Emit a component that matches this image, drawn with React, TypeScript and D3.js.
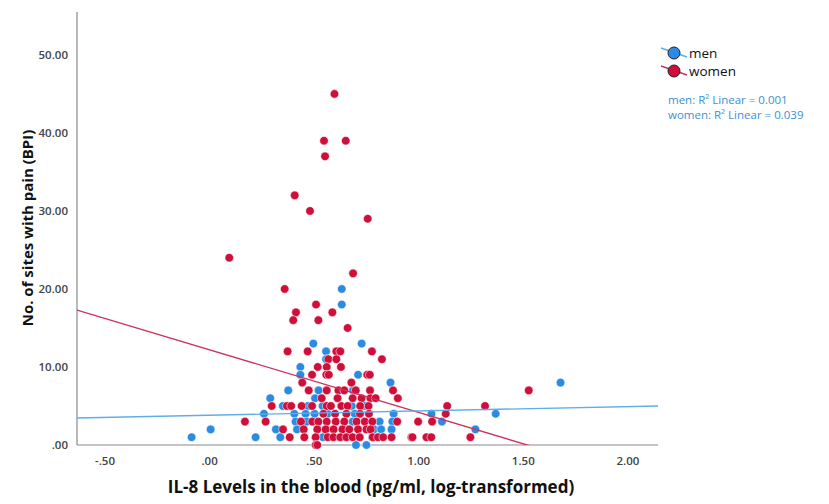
import React, { useEffect, useRef } from 'react';
import * as d3 from 'd3';

// [IL-8 log value, sites with pain]
const women: [number, number][] = [
    [0.597, 45], [0.547, 39], [0.651, 39], [0.552, 37], [0.407, 32], [0.48, 30], [0.756, 29],
    [0.094, 24], [0.686, 22], [0.359, 20], [0.509, 18], [0.413, 17], [0.587, 17], [0.40, 16],
    [0.52, 16], [0.66, 15],
    [0.373, 12], [0.469, 12], [0.606, 12], [0.625, 12], [0.776, 12],
    [0.568, 11], [0.606, 11], [0.824, 11],
    [0.517, 10], [0.56, 10], [0.628, 10],
    [0.49, 9], [0.558, 9], [0.57, 9], [0.754, 9], [0.766, 9],
    [0.443, 8], [0.678, 8],
    [0.474, 7], [0.56, 7], [0.616, 7], [0.644, 7], [0.699, 7], [0.767, 7], [0.877, 7], [1.526, 7],
    [0.536, 6], [0.612, 6], [0.684, 6], [0.727, 6], [0.769, 6], [0.794, 6], [0.90, 6],
    [0.297, 5], [0.37, 5], [0.39, 5], [0.44, 5], [0.49, 5], [0.56, 5], [0.58, 5], [0.63, 5],
    [0.66, 5], [0.72, 5], [0.76, 5], [1.136, 5], [1.317, 5],
    [0.544, 4], [0.6, 4], [0.654, 4], [0.719, 4], [0.762, 4], [1.129, 4],
    [0.169, 3], [0.268, 3], [0.437, 3], [0.491, 3], [0.52, 3], [0.56, 3], [0.603, 3], [0.644, 3],
    [0.703, 3], [0.742, 3], [0.778, 3], [0.897, 3], [0.997, 3], [1.064, 3],
    [0.351, 2], [0.45, 2], [0.515, 2], [0.555, 2], [0.593, 2], [0.635, 2], [0.668, 2], [0.71, 2],
    [0.75, 2], [0.77, 2],
    [0.383, 1], [0.453, 1], [0.507, 1], [0.565, 1], [0.592, 1], [0.625, 1], [0.654, 1], [0.684, 1],
    [0.718, 1], [0.78, 1], [0.805, 1], [0.83, 1], [0.87, 1], [0.965, 1], [0.97, 1], [1.037, 1],
    [1.06, 1], [1.247, 1],
    [0.507, 0], [0.515, 0],
];

const men: [number, number][] = [
    [-0.086, 1], [0.005, 2], [0.22, 1], [0.26, 4], [0.29, 6], [0.317, 2], [0.338, 1], [0.376, 7],
    [0.496, 13], [0.557, 12], [0.727, 13], [0.632, 20], [0.632, 18], [0.557, 11], [0.434, 10],
    [0.434, 9], [0.71, 9], [0.521, 7], [0.686, 7], [0.504, 6], [0.865, 8], [1.678, 8],
    [0.35, 5], [0.47, 5], [0.54, 5], [0.68, 5], [0.74, 5],
    [0.405, 4], [0.459, 4], [0.502, 4], [0.565, 4], [0.694, 4], [0.88, 4], [1.061, 4], [1.368, 4],
    [0.411, 3], [0.464, 3], [0.684, 3], [0.813, 3], [0.874, 3], [1.111, 3],
    [0.418, 2], [0.786, 2], [0.82, 2], [0.87, 2], [1.271, 2],
    [0.542, 1], [0.778, 1],
    [0.70, 0], [0.75, 0],
];

// linear fits [intercept, slope]
const womenFit = [12.2, -8.03];
const menFit = [3.81, 0.555];

const xTicks = [-0.5, 0, 0.5, 1, 1.5, 2];
const yTicks = [0, 10, 20, 30, 40, 50];
const fitLabels = ['men: R\u00b2 Linear = 0.001', 'women: R\u00b2 Linear = 0.039'];

const MEN = '#2b8be2';
const WOMEN = '#cf0e3a';
const MEN_LINE = '#5eaee8';
const WOMEN_LINE = '#c9335c';

const fmt = (v: number) => {
    const s = v.toFixed(2);
    return s.replace(/^(-?)0\./, '$1.');
};

const App: React.FC = () => {
    const svgRef = useRef<SVGSVGElement | null>(null);

    useEffect(() => {
        const svg = d3.select(svgRef.current);
        svg.selectAll('*').remove();

        const left = 77, right = 658, top = 12, bottom = 445;
        const x = d3.scaleLinear().domain([-0.634, 2.144]).range([left, right]);
        const y = d3.scaleLinear().domain([0, 55.5]).range([bottom, top]);
        const font = '"Open Sans", "DejaVu Sans", sans-serif';

        svg.append('clipPath').attr('id', 'plot')
            .append('rect').attr('x', left).attr('y', top)
            .attr('width', right - left).attr('height', bottom - top);

        // axis lines
        svg.append('line').attr('x1', left).attr('x2', left).attr('y1', top).attr('y2', bottom)
            .attr('stroke', '#8a8a8a').attr('stroke-width', 1.2);
        svg.append('line').attr('x1', left).attr('x2', right).attr('y1', bottom).attr('y2', bottom)
            .attr('stroke', '#8a8a8a').attr('stroke-width', 1.2);

        svg.append('g').selectAll('text').data(yTicks).enter().append('text')
            .attr('x', left - 9).attr('y', d => y(d) + 4)
            .attr('text-anchor', 'end').attr('font-family', font).attr('font-size', 11.5)
            .attr('font-weight', 600).attr('fill', '#444')
            .text(d => fmt(d));

        svg.append('g').selectAll('text').data(xTicks).enter().append('text')
            .attr('x', d => x(d)).attr('y', bottom + 20)
            .attr('text-anchor', 'middle').attr('font-family', font).attr('font-size', 11.5)
            .attr('font-weight', 600).attr('fill', '#444')
            .text(d => fmt(d));

        // axis titles
        svg.append('text').attr('x', 371).attr('y', 493).attr('text-anchor', 'middle')
            .attr('font-family', font).attr('font-size', 17).attr('font-weight', 700).attr('fill', '#111')
            .text('IL-8 Levels in the blood (pg/ml, log-transformed)');
        svg.append('text').attr('transform', 'translate(33,228) rotate(-90)').attr('text-anchor', 'middle')
            .attr('font-family', font).attr('font-size', 15).attr('font-weight', 700).attr('fill', '#111')
            .text('No. of sites with pain (BPI)');

        const pts = svg.append('g');
        const drawDots = (data: [number, number][], color: string) => {
            pts.append('g').selectAll('circle').data(data).enter().append('circle')
                .attr('cx', d => x(d[0])).attr('cy', d => y(d[1])).attr('r', 4.3)
                .attr('fill', color).attr('stroke', '#fff').attr('stroke-opacity', 0.7).attr('stroke-width', 0.8);
        };
        drawDots(men, MEN);
        drawDots(women, WOMEN);

        // fit lines
        const fit = svg.append('g').attr('clip-path', 'url(#plot)');
        const line = (c: number[], color: string) => {
            const [x0, x1] = x.domain();
            fit.append('line')
                .attr('x1', x(x0)).attr('y1', y(c[0] + c[1] * x0))
                .attr('x2', x(x1)).attr('y2', y(c[0] + c[1] * x1))
                .attr('stroke', color).attr('stroke-width', 1.4);
        };
        line(womenFit, WOMEN_LINE);
        line(menFit, MEN_LINE);

        // legend
        const leg = svg.append('g');
        const items = [
            { label: 'men', color: MEN, line: MEN_LINE },
            { label: 'women', color: WOMEN, line: WOMEN_LINE },
        ];
        items.forEach((it, i) => {
            const cy = 53 + i * 18;
            leg.append('line').attr('x1', 661).attr('y1', cy - 5).attr('x2', 687).attr('y2', cy + 4)
                .attr('stroke', it.line).attr('stroke-width', 1.4);
            leg.append('circle').attr('cx', 674).attr('cy', cy).attr('r', 6)
                .attr('fill', it.color).attr('stroke', '#222').attr('stroke-width', 1);
            leg.append('text').attr('x', 689).attr('y', cy + 5)
                .attr('font-family', font).attr('font-size', 13.5).attr('font-weight', 500).attr('fill', '#111')
                .text(it.label);
        });
        fitLabels.forEach((t, i) => {
            leg.append('text').attr('x', 668).attr('y', 104 + i * 15)
                .attr('font-family', font).attr('font-size', 11.5).attr('font-weight', 500).attr('fill', '#3d90d4')
                .text(t);
        });
    }, []);

    return <svg ref={svgRef} width={829} height={504}
        style={{ position: 'absolute', left: 0, top: 0, background: '#fff' }} />;
};

export default App;
